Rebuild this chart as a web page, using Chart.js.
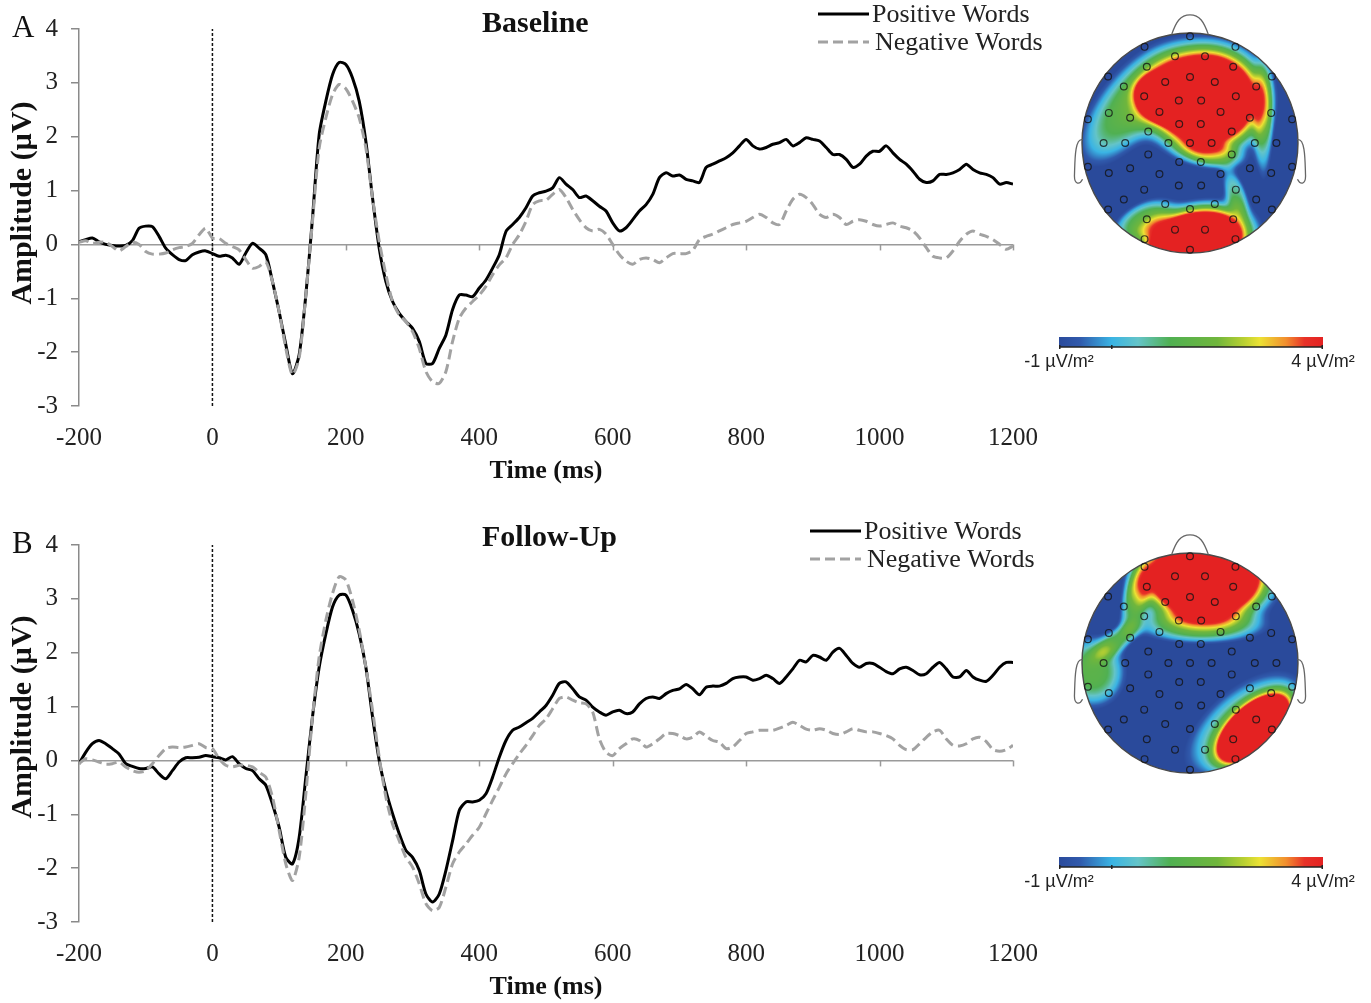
<!DOCTYPE html>
<html>
<head>
<meta charset="utf-8">
<script src="https://cdn.jsdelivr.net/npm/chart.js@4.4.1/dist/chart.umd.min.js"></script>
<style>
html,body{margin:0;padding:0;background:#fff;}
#page{position:relative;width:1371px;height:1003px;background:#fff;overflow:hidden;}
canvas{position:absolute;}
</style>
</head>
<body>
<div id="page">
  <canvas id="erpA" width="1060" height="487" style="left:0;top:0"></canvas>
  <canvas id="erpB" width="1060" height="487" style="left:0;top:516px"></canvas>
  <canvas id="headA" width="361" height="400" style="left:1010px;top:0"></canvas>
  <canvas id="headB" width="361" height="400" style="left:1010px;top:520px"></canvas>
</div>
<script>
// ---------------- DATA ----------------
const times = Array.from({length: 141}, (_, i) => -200 + i * 10); // ms, 10 ms grid
const xTicks = [-200, 0, 200, 400, 600, 800, 1000, 1200];
const yTicks = [-3, -2, -1, 0, 1, 2, 3, 4];
const seriesNames = ['Positive Words', 'Negative Words'];
const panelTitles = ['Baseline', 'Follow-Up'];
const panelLetters = ['A', 'B'];
const axisTitles = ['Time (ms)', 'Amplitude (µV)'];
const colorbarLabels = ['-1 µV/m²', '4 µV/m²'];
const colorRange = [-1, 4];

// Panel A (Baseline)
const baselinePositive = [
  0.05,0.09,0.12,0.05,0.00,-0.02,-0.03,-0.02,0.07,0.30,
  0.34,0.33,0.15,-0.07,-0.19,-0.28,-0.30,-0.19,-0.14,-0.12,
  -0.17,-0.22,-0.20,-0.25,-0.37,-0.16,0.02,-0.07,-0.19,-0.69,
  -1.25,-1.86,-2.40,-2.05,-0.94,0.49,2.04,2.66,3.15,3.38,
  3.34,3.09,2.66,1.91,0.86,-0.07,-0.69,-1.06,-1.28,-1.43,
  -1.56,-1.80,-2.21,-2.21,-1.93,-1.68,-1.21,-0.94,-0.94,-0.97,
  -0.81,-0.66,-0.44,-0.19,0.24,0.37,0.50,0.68,0.90,0.96,
  0.99,1.05,1.24,1.12,1.02,0.87,0.90,0.81,0.71,0.62,
  0.40,0.25,0.31,0.46,0.62,0.74,0.93,1.24,1.33,1.27,
  1.29,1.21,1.18,1.15,1.43,1.49,1.55,1.61,1.70,1.83,
  1.95,1.83,1.77,1.80,1.86,1.89,1.95,1.83,1.89,1.98,
  1.95,1.92,1.80,1.67,1.67,1.58,1.43,1.49,1.64,1.73,
  1.73,1.83,1.70,1.58,1.49,1.36,1.21,1.15,1.18,1.30,
  1.30,1.33,1.39,1.49,1.39,1.33,1.30,1.24,1.12,1.15,
  1.12
];
const baselineNegative = [
  0.04,0.07,0.02,0.04,0.04,-0.04,-0.12,-0.04,0.04,0.00,
  -0.13,-0.18,-0.18,-0.16,-0.10,-0.06,-0.04,0.02,0.18,0.30,
  0.12,0.11,0.02,-0.04,-0.10,-0.28,-0.44,-0.41,-0.32,-0.69,
  -1.25,-1.93,-2.42,-2.11,-0.94,0.43,1.79,2.35,2.78,2.97,
  2.89,2.66,2.35,1.79,0.86,0.06,-0.56,-1.06,-1.31,-1.43,
  -1.62,-1.93,-2.36,-2.55,-2.58,-2.36,-1.80,-1.37,-1.18,-1.06,
  -0.94,-0.78,-0.56,-0.38,-0.25,0.00,0.18,0.43,0.74,0.81,
  0.82,0.93,1.02,0.87,0.65,0.46,0.31,0.25,0.28,0.19,
  0.00,-0.19,-0.31,-0.37,-0.28,-0.25,-0.28,-0.34,-0.25,-0.17,
  -0.17,-0.17,-0.11,0.09,0.15,0.19,0.25,0.31,0.37,0.40,
  0.43,0.50,0.56,0.50,0.40,0.37,0.62,0.84,0.93,0.87,
  0.74,0.56,0.50,0.56,0.50,0.37,0.43,0.46,0.43,0.37,
  0.34,0.37,0.40,0.34,0.31,0.25,0.12,-0.06,-0.22,-0.25,
  -0.25,-0.12,0.06,0.19,0.25,0.19,0.15,0.09,0.00,-0.09,
  -0.03
];

// Panel B (Follow-Up)
const followupPositive = [
  -0.06,0.15,0.31,0.37,0.31,0.22,0.12,-0.06,-0.11,-0.15,
  -0.15,-0.12,-0.25,-0.34,-0.19,-0.03,0.05,0.05,0.06,0.09,
  0.07,0.05,0.01,0.07,-0.06,-0.15,-0.19,-0.34,-0.46,-0.81,
  -1.24,-1.80,-1.92,-1.43,-0.31,0.81,1.73,2.35,2.85,3.07,
  3.07,2.79,2.35,1.73,0.81,0.00,-0.56,-0.99,-1.36,-1.67,
  -1.80,-2.04,-2.48,-2.63,-2.48,-2.04,-1.49,-0.93,-0.77,-0.77,
  -0.74,-0.62,-0.31,0.06,0.37,0.56,0.62,0.70,0.78,0.90,
  1.02,1.21,1.43,1.46,1.33,1.18,1.12,0.99,0.90,0.84,
  0.90,0.93,0.87,0.90,1.05,1.15,1.18,1.15,1.24,1.30,
  1.33,1.41,1.33,1.22,1.36,1.38,1.38,1.43,1.52,1.55,
  1.55,1.49,1.52,1.58,1.52,1.43,1.55,1.70,1.86,1.83,
  1.95,1.92,1.86,2.01,2.08,1.95,1.80,1.73,1.80,1.80,
  1.73,1.65,1.61,1.70,1.73,1.67,1.59,1.61,1.73,1.82,
  1.70,1.55,1.55,1.67,1.55,1.49,1.47,1.58,1.73,1.82,
  1.82
];
const followupNegative = [
  -0.06,0.03,0.01,-0.03,-0.07,-0.06,-0.03,-0.12,-0.19,-0.22,
  -0.19,-0.06,0.09,0.22,0.25,0.24,0.25,0.28,0.31,0.24,
  0.22,0.03,-0.09,-0.12,-0.09,-0.09,-0.12,-0.22,-0.31,-0.68,
  -1.30,-1.92,-2.23,-1.80,-0.62,0.81,1.92,2.60,3.10,3.41,
  3.35,2.97,2.42,1.73,0.93,0.06,-0.68,-1.18,-1.49,-1.80,
  -1.98,-2.29,-2.66,-2.79,-2.73,-2.35,-1.92,-1.70,-1.55,-1.39,
  -1.24,-0.99,-0.74,-0.50,-0.25,-0.06,0.12,0.28,0.46,0.65,
  0.77,0.96,1.15,1.18,1.12,1.07,1.05,0.90,0.40,0.15,
  0.09,0.22,0.31,0.40,0.37,0.25,0.31,0.40,0.50,0.50,
  0.46,0.40,0.43,0.53,0.45,0.37,0.34,0.22,0.25,0.37,
  0.50,0.53,0.56,0.56,0.56,0.60,0.65,0.71,0.65,0.58,
  0.56,0.59,0.56,0.50,0.48,0.53,0.59,0.56,0.53,0.53,
  0.50,0.46,0.40,0.28,0.20,0.20,0.31,0.43,0.53,0.56,
  0.40,0.28,0.27,0.31,0.40,0.43,0.35,0.20,0.17,0.20,
  0.28
];

// Topographic field sources: [x, y, spreadX, spreadY, angleDeg, amplitude]
const topoBase = -2;
const topoBaseline = [
  [0.14, 0.40, 0.50, 0.44, 0, 12],
  [-0.25, 0.40, 0.22, 0.17, -25, 8],
  [-0.58, 0.32, 0.60, 0.28, 52, 3.4],
  [0.20, -0.10, 0.30, 0.12, -10, 2.6],
  [0.68, 0.20, 0.09, 0.55, 0, 2.5],
  [0.42, -0.45, 0.10, 0.22, 20, 2.6],
  [0.05, -0.90, 0.48, 0.29, 12, 12],
  [-0.45, -0.70, 0.30, 0.15, 30, 3.0]
];
const topoFollowup = [
  [0.14, 0.78, 0.55, 0.38, 0, 12],
  [0.10, 0.33, 0.60, 0.15, 0, 2.8],
  [-0.50, 0.60, 0.12, 0.32, -15, 3.0],
  [-0.68, 0.20, 0.25, 0.10, 35, 2.4],
  [-0.90, -0.08, 0.30, 0.32, 0, 3.4],
  [0.60, -0.60, 0.38, 0.19, 42, 12],
  [0.48, -0.55, 0.62, 0.30, 40, 3.2]
];
// electrode montage rings: [radius, count, startAngleDeg]
const electrodeRings = [[0, 1, 0], [0.2, 6, 30], [0.4, 12, 15], [0.6, 16, 0], [0.8, 18, 10], [0.97, 14, 0]];

// ---------------- STYLE ----------------
const SERIF = "'Liberation Serif','Times New Roman',serif";
const SANS = "'Liberation Sans',Arial,sans-serif";
const colorStops = [
  [0.00, [42, 74, 155]],
  [0.08, [48, 90, 172]],
  [0.20, [58, 180, 228]],
  [0.30, [100, 196, 200]],
  [0.42, [80, 176, 82]],
  [0.60, [112, 182, 60]],
  [0.70, [185, 208, 50]],
  [0.76, [236, 226, 52]],
  [0.86, [242, 142, 46]],
  [0.93, [232, 50, 40]],
  [1.00, [228, 34, 34]]
];
function colorAt(v) {
  let t = (v - colorRange[0]) / (colorRange[1] - colorRange[0]);
  t = Math.max(0, Math.min(1, t));
  for (let i = 1; i < colorStops.length; i++) {
    if (t <= colorStops[i][0]) {
      const [t0, c0] = colorStops[i - 1], [t1, c1] = colorStops[i];
      const f = (t - t0) / (t1 - t0);
      return [0, 1, 2].map(k => Math.round(c0[k] + (c1[k] - c0[k]) * f));
    }
  }
  return colorStops[colorStops.length - 1][1];
}
function field(nx, ny, src) {
  let v = topoBase;
  for (const [cx, cy, sx, sy, ang, amp] of src) {
    const a = ang * Math.PI / 180, dx = nx - cx, dy = ny - cy;
    const u = (dx * Math.cos(a) + dy * Math.sin(a)) / sx;
    const w = (-dx * Math.sin(a) + dy * Math.cos(a)) / sy;
    const q = u * u + w * w;
    v += amp * Math.exp(-Math.pow(q, 1.5));
  }
  return v;
}

// ---------------- ERP PLUGIN ----------------
const erpDecor = {
  id: 'erpDecor',
  beforeDatasetsDraw(chart) {
    const {ctx, scales: {x, y}} = chart;
    const y0 = y.getPixelForValue(0);
    ctx.save();
    ctx.strokeStyle = '#9a9a9a';
    ctx.lineWidth = 1.5;
    xTicks.forEach(v => {
      if (v === xTicks[0]) return;
      const px = Math.round(x.getPixelForValue(v)) + 0.5;
      ctx.beginPath(); ctx.moveTo(px, y0); ctx.lineTo(px, y0 + 6); ctx.stroke();
    });
    ctx.restore();
  },
  afterDraw(chart, args, o) {
    const ctx = chart.ctx;
    ctx.save();
    ctx.fillStyle = '#111';
    ctx.textBaseline = 'middle';
    ctx.textAlign = 'left';
    ctx.font = `31px ${SERIF}`;
    ctx.fillText(o.letter, 12, o.letterY);
    ctx.font = `bold 30px ${SERIF}`;
    ctx.fillText(o.title, 482, o.titleY);
    // y-axis title
    ctx.save();
    ctx.translate(23, o.yTitleY);
    ctx.rotate(-Math.PI / 2);
    ctx.textAlign = 'center';
    ctx.font = `bold 30px ${SERIF}`;
    ctx.fillText(axisTitles[1], 0, 0);
    ctx.restore();
    // legend
    const ds = chart.data.datasets.filter(d => d.label);
    const order = seriesNames.map(n => ds.find(d => d.label === n));
    ctx.font = `26px ${SERIF}`;
    ctx.textAlign = 'left';
    order.forEach((d, i) => {
      const ly = o.legendY + i * 28;
      ctx.strokeStyle = d.borderColor;
      ctx.lineWidth = d.borderWidth;
      ctx.setLineDash(d.borderDash || []);
      ctx.beginPath(); ctx.moveTo(o.legendX, ly); ctx.lineTo(o.legendX + 51, ly); ctx.stroke();
      ctx.setLineDash([]);
      ctx.fillStyle = '#222';
      ctx.fillText(d.label, o.legendX + 54 + i * 3, ly + 1);
    });
    ctx.restore();
  }
};

function erpChart(id, pos, neg, deco) {
  return new Chart(document.getElementById(id), {
    type: 'line',
    data: {
      datasets: [
        { label: seriesNames[1], data: times.map((t, i) => ({x: t, y: neg[i]})),
          borderColor: '#a2a2a2', borderWidth: 3, borderDash: [10, 5], pointRadius: 0, tension: 0.25, order: 1 },
        { label: seriesNames[0], data: times.map((t, i) => ({x: t, y: pos[i]})),
          borderColor: '#000000', borderWidth: 3, pointRadius: 0, tension: 0.25, order: 2 },
        { label: '', data: [{x: 0, y: yTicks[0]}, {x: 0, y: yTicks[yTicks.length - 1]}],
          borderColor: '#111', borderWidth: 1.5, borderDash: [3, 2], pointRadius: 0, order: 3 }
      ]
    },
    options: {
      responsive: false, animation: false, devicePixelRatio: 1,
      layout: {padding: {left: 0, top: 29, right: 47, bottom: 0}},
      plugins: {legend: {display: false}, tooltip: {enabled: false}, erpDecor: deco},
      scales: {
        x: {
          type: 'linear', min: xTicks[0], max: xTicks[xTicks.length - 1],
          afterBuildTicks: s => { s.ticks = xTicks.map(v => ({value: v})); },
          afterFit: s => { s.height = 81; },
          grid: {display: false, drawTicks: false},
          border: {display: false},
          ticks: {font: {family: SERIF, size: 25}, color: '#222', padding: 17, maxRotation: 0,
                  callback: v => String(v)},
          title: {display: true, text: axisTitles[0], font: {family: SERIF, size: 26, weight: 'bold'}, color: '#111', padding: {top: 0, bottom: 0}}
        },
        y: {
          min: yTicks[0], max: yTicks[yTicks.length - 1],
          afterBuildTicks: s => { s.ticks = yTicks.map(v => ({value: v})); },
          afterFit: s => { s.width = 79; },
          grid: {color: c => (c.tick && c.tick.value === 0) ? '#9a9a9a' : 'rgba(0,0,0,0)', lineWidth: 1.5,
                 tickColor: '#8a8a8a', tickLength: 8, drawOnChartArea: true},
          border: {display: true, color: '#8a8a8a', width: 1.5},
          ticks: {font: {family: SERIF, size: 25}, color: '#222', padding: 13, callback: v => String(v)},
          title: {display: false}
        }
      }
    },
    plugins: [erpDecor]
  });
}

erpChart('erpA', baselinePositive, baselineNegative,
  {letter: panelLetters[0], letterY: 29, title: panelTitles[0], titleY: 24, legendX: 818, legendY: 14, yTitleY: 203});
erpChart('erpB', followupPositive, followupNegative,
  {letter: panelLetters[1], letterY: 29, title: panelTitles[1], titleY: 22, legendX: 810, legendY: 15, yTitleY: 201});

// ---------------- HEAD MAPS ----------------
function electrodes() {
  const pts = [];
  electrodeRings.forEach(([r, n, a0]) => {
    for (let k = 0; k < n; k++) {
      const a = (a0 + 90 + k * 360 / n) * Math.PI / 180;
      pts.push({x: r * Math.cos(a), y: r * Math.sin(a)});
    }
  });
  return pts;
}
const topoPlugin = {
  id: 'topo',
  beforeDatasetsDraw(chart, args, o) {
    const {ctx, chartArea: a, scales: {x, y}} = chart;
    const w = Math.ceil(a.right - a.left) + 2, h = Math.ceil(a.bottom - a.top) + 2;
    const off = document.createElement('canvas');
    off.width = w; off.height = h;
    const octx = off.getContext('2d');
    const img = octx.createImageData(w, h);
    const rpx = (x.getPixelForValue(1) - x.getPixelForValue(-1)) / 2;
    for (let j = 0; j < h; j++) {
      for (let i = 0; i < w; i++) {
        const nx = x.getValueForPixel(a.left - 1 + i + 0.5);
        const ny = y.getValueForPixel(a.top - 1 + j + 0.5);
        const r = Math.sqrt(nx * nx + ny * ny);
        const alpha = Math.max(0, Math.min(1, (1 - r) * rpx + 0.5));
        if (alpha <= 0) continue;
        const c = colorAt(field(nx, ny, o.sources));
        const k = (j * w + i) * 4;
        img.data[k] = c[0]; img.data[k + 1] = c[1]; img.data[k + 2] = c[2];
        img.data[k + 3] = Math.round(alpha * 255);
      }
    }
    octx.putImageData(img, 0, 0);
    ctx.drawImage(off, a.left - 1, a.top - 1);
    // head outline, nose, ears
    const X = v => x.getPixelForValue(v), Y = v => y.getPixelForValue(v);
    ctx.save();
    ctx.strokeStyle = '#4a4a4a';
    ctx.lineWidth = 1.4;
    ctx.beginPath();
    ctx.ellipse(X(0), Y(0), (X(1) - X(-1)) / 2, (Y(-1) - Y(1)) / 2, 0, 0, Math.PI * 2);
    ctx.stroke();
    ctx.strokeStyle = '#666';
    ctx.lineWidth = 1.3;
    ctx.beginPath();
    ctx.moveTo(X(-0.17), Y(0.985));
    ctx.bezierCurveTo(X(-0.13), Y(1.10), X(-0.09), Y(1.165), X(0), Y(1.165));
    ctx.bezierCurveTo(X(0.09), Y(1.165), X(0.13), Y(1.10), X(0.17), Y(0.985));
    ctx.stroke();
    [-1, 1].forEach(s => {
      ctx.beginPath();
      ctx.moveTo(X(s * 0.995), Y(0.03));
      ctx.bezierCurveTo(X(s * 1.07), Y(0.05), X(s * 1.065), Y(-0.18), X(s * 1.07), Y(-0.3));
      ctx.bezierCurveTo(X(s * 1.07), Y(-0.38), X(s * 1.02), Y(-0.38), X(s * 0.995), Y(-0.33));
      ctx.stroke();
    });
    ctx.restore();
  },
  afterDraw(chart) {
    const ctx = chart.ctx;
    const x0 = 49, x1 = 313, y0 = 337, y1 = 347;
    ctx.save();
    const g = ctx.createLinearGradient(x0, 0, x1, 0);
    colorStops.forEach(([t, c]) => g.addColorStop(t, `rgb(${c[0]},${c[1]},${c[2]})`));
    ctx.fillStyle = g;
    ctx.fillRect(x0, y0, x1 - x0, y1 - y0);
    ctx.strokeStyle = '#222';
    ctx.lineWidth = 1.5;
    ctx.beginPath(); ctx.moveTo(x0, y1); ctx.lineTo(x1, y1); ctx.stroke();
    [x0 + 0.75, x0 + (x1 - x0) * 0.2, x1 - 0.75].forEach(px => {
      ctx.beginPath(); ctx.moveTo(px, y1 - 2); ctx.lineTo(px, y1 + 2); ctx.stroke();
    });
    ctx.fillStyle = '#222';
    ctx.font = `18px ${SANS}`;
    ctx.textBaseline = 'middle';
    ctx.textAlign = 'center';
    ctx.fillText(colorbarLabels[0], x0, 362);
    ctx.fillText(colorbarLabels[1], x1, 362);
    ctx.restore();
  }
};
function headChart(id, sources) {
  return new Chart(document.getElementById(id), {
    type: 'scatter',
    data: {datasets: [{data: electrodes(), pointRadius: 3.4, pointBorderWidth: 1.2,
      pointBorderColor: 'rgba(20,20,20,0.8)', pointBackgroundColor: 'rgba(0,0,0,0)', clip: false}]},
    options: {
      responsive: false, animation: false, devicePixelRatio: 1,
      layout: {padding: {left: 72, right: 73, top: 33, bottom: 147}},
      scales: {x: {display: false, min: -1, max: 1}, y: {display: false, min: -1, max: 1}},
      plugins: {legend: {display: false}, tooltip: {enabled: false}, topo: {sources}}
    },
    plugins: [topoPlugin]
  });
}
headChart('headA', topoBaseline);
headChart('headB', topoFollowup);
</script>
</body>
</html>
